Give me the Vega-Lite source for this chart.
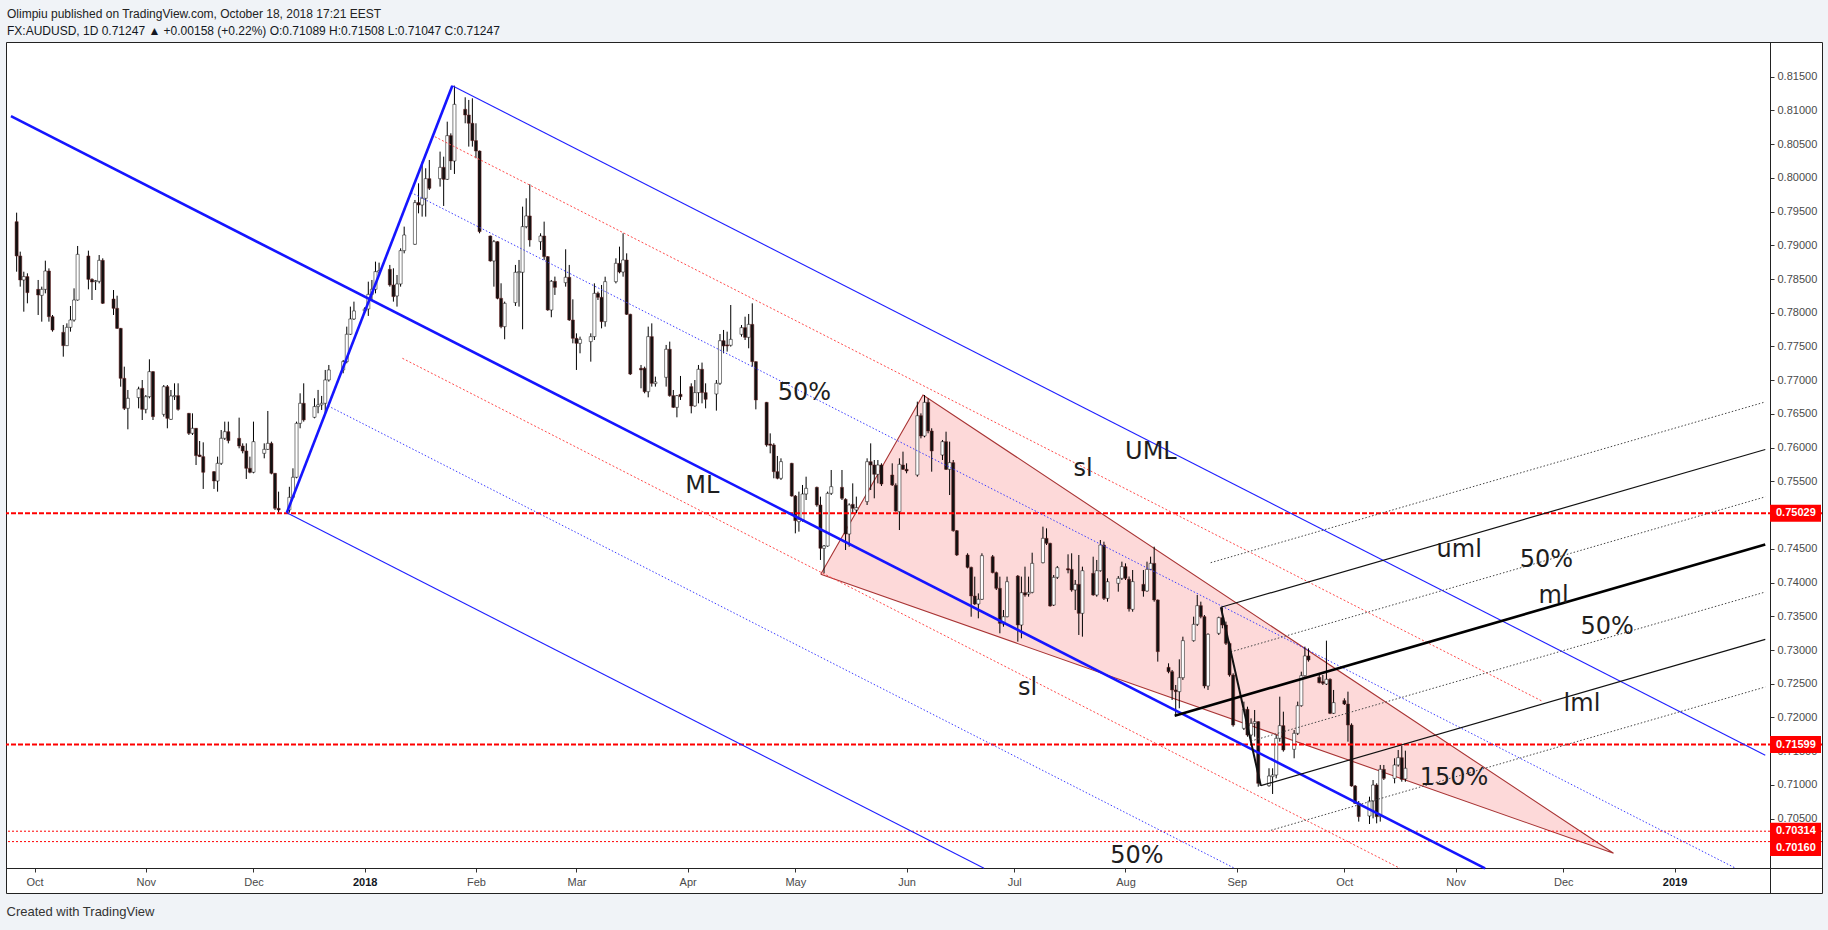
{
"$schema":"https://vega.github.io/schema/vega-lite/v6.json",
"width":1816,"height":851,
"autosize":{"type":"none"},
"padding":{"left":6,"top":42,"right":6,"bottom":37},
"background":"#f0f3f7",
"config":{"view":{"fill":"#ffffff","stroke":"#222222","strokeWidth":1},"font":"Liberation Sans","axis":{"labelOverlap":false,"labelSeparation":0}},
"title":{"text":"Olimpiu published on TradingView.com, October 18, 2018 17:21 EEST","subtitle":"FX:AUDUSD, 1D 0.71247 ▲ +0.00158 (+0.22%) O:0.71089 H:0.71508 L:0.71047 C:0.71247","anchor":"start","frame":"group","orient":"top","offset":4,"dx":1,"font":"Liberation Sans","fontSize":12,"fontWeight":"normal","color":"#222222","subtitleFont":"Liberation Sans","subtitleFontSize":12,"subtitleFontWeight":"normal","subtitleColor":"#131722","subtitlePadding":5},
"datasets":{
"candles":[
{"date":"2017-09-26","o":0.7935,"h":0.79484,"l":0.78609,"c":0.78842},
{"date":"2017-09-27","o":0.78842,"h":0.78906,"l":0.78387,"c":0.78486},
{"date":"2017-09-28","o":0.78486,"h":0.78609,"l":0.78016,"c":0.78536},
{"date":"2017-09-29","o":0.78536,"h":0.78585,"l":0.7814,"c":0.78298},
{"date":"2017-10-02","o":0.78347,"h":0.78486,"l":0.77967,"c":0.78263},
{"date":"2017-10-03","o":0.78258,"h":0.78387,"l":0.77868,"c":0.78347},
{"date":"2017-10-04","o":0.78347,"h":0.78772,"l":0.78288,"c":0.78619},
{"date":"2017-10-05","o":0.78619,"h":0.78658,"l":0.77868,"c":0.77942},
{"date":"2017-10-06","o":0.77942,"h":0.77967,"l":0.7772,"c":0.77744},
{"date":"2017-10-09","o":0.7771,"h":0.77819,"l":0.77349,"c":0.77512},
{"date":"2017-10-10","o":0.77512,"h":0.77843,"l":0.77507,"c":0.77784},
{"date":"2017-10-11","o":0.77784,"h":0.781,"l":0.7772,"c":0.77893},
{"date":"2017-10-12","o":0.77893,"h":0.78362,"l":0.77868,"c":0.78189},
{"date":"2017-10-13","o":0.78189,"h":0.7899,"l":0.78179,"c":0.78866},
{"date":"2017-10-16","o":0.78842,"h":0.78921,"l":0.78347,"c":0.78495},
{"date":"2017-10-17","o":0.78495,"h":0.7851,"l":0.78189,"c":0.78456},
{"date":"2017-10-18","o":0.78461,"h":0.78486,"l":0.78337,"c":0.78476},
{"date":"2017-10-19","o":0.78466,"h":0.78856,"l":0.78436,"c":0.78777},
{"date":"2017-10-20","o":0.78777,"h":0.78807,"l":0.7813,"c":0.7814},
{"date":"2017-10-23","o":0.78204,"h":0.78337,"l":0.77967,"c":0.78066},
{"date":"2017-10-24","o":0.78066,"h":0.78253,"l":0.7776,"c":0.77769},
{"date":"2017-10-25","o":0.77769,"h":0.77775,"l":0.76904,"c":0.77028},
{"date":"2017-10-26","o":0.77028,"h":0.77201,"l":0.76558,"c":0.76583},
{"date":"2017-10-27","o":0.76583,"h":0.76855,"l":0.76272,"c":0.76732},
{"date":"2017-10-30","o":0.76742,"h":0.76904,"l":0.76583,"c":0.7687},
{"date":"2017-10-31","o":0.7688,"h":0.77003,"l":0.7641,"c":0.76568},
{"date":"2017-11-01","o":0.76568,"h":0.76781,"l":0.76509,"c":0.76756},
{"date":"2017-11-02","o":0.76756,"h":0.7731,"l":0.76732,"c":0.77127},
{"date":"2017-11-03","o":0.77127,"h":0.77135,"l":0.7641,"c":0.7646},
{"date":"2017-11-06","o":0.76494,"h":0.76929,"l":0.7646,"c":0.76904},
{"date":"2017-11-07","o":0.76904,"h":0.76929,"l":0.76287,"c":0.76435},
{"date":"2017-11-08","o":0.7642,"h":0.76855,"l":0.7641,"c":0.76766},
{"date":"2017-11-09","o":0.76756,"h":0.76954,"l":0.76707,"c":0.76771},
{"date":"2017-11-10","o":0.76771,"h":0.76954,"l":0.76549,"c":0.76568},
{"date":"2017-11-13","o":0.76509,"h":0.76515,"l":0.76188,"c":0.76213},
{"date":"2017-11-14","o":0.76213,"h":0.76509,"l":0.76188,"c":0.76287},
{"date":"2017-11-15","o":0.76287,"h":0.76292,"l":0.75743,"c":0.75882},
{"date":"2017-11-16","o":0.75892,"h":0.76099,"l":0.75862,"c":0.75867},
{"date":"2017-11-17","o":0.75867,"h":0.76079,"l":0.75388,"c":0.75635},
{"date":"2017-11-20","o":0.75644,"h":0.75654,"l":0.75388,"c":0.75506},
{"date":"2017-11-21","o":0.75506,"h":0.75867,"l":0.75348,"c":0.75768},
{"date":"2017-11-22","o":0.75768,"h":0.76262,"l":0.75743,"c":0.76139},
{"date":"2017-11-23","o":0.76139,"h":0.76386,"l":0.76114,"c":0.76237},
{"date":"2017-11-24","o":0.76237,"h":0.76386,"l":0.76064,"c":0.76104},
{"date":"2017-11-27","o":0.76139,"h":0.76445,"l":0.7599,"c":0.76025},
{"date":"2017-11-28","o":0.76025,"h":0.76064,"l":0.75916,"c":0.75951},
{"date":"2017-11-29","o":0.75951,"h":0.76064,"l":0.75536,"c":0.75694},
{"date":"2017-11-30","o":0.75694,"h":0.75867,"l":0.7562,"c":0.75635},
{"date":"2017-12-01","o":0.75635,"h":0.76386,"l":0.7562,"c":0.76089},
{"date":"2017-12-04","o":0.75916,"h":0.76064,"l":0.75842,"c":0.75975},
{"date":"2017-12-05","o":0.75975,"h":0.76544,"l":0.75966,"c":0.76064},
{"date":"2017-12-06","o":0.76064,"h":0.76089,"l":0.75605,"c":0.7562},
{"date":"2017-12-07","o":0.7562,"h":0.75625,"l":0.75076,"c":0.75101},
{"date":"2017-12-08","o":0.75101,"h":0.75348,"l":0.75036,"c":0.75076},
{"date":"2017-12-11","o":0.75077,"h":0.7542,"l":0.75037,"c":0.75264},
{"date":"2017-12-12","o":0.75264,"h":0.75694,"l":0.75249,"c":0.75561},
{"date":"2017-12-13","o":0.75561,"h":0.76386,"l":0.75546,"c":0.76361},
{"date":"2017-12-14","o":0.76361,"h":0.76806,"l":0.76287,"c":0.76658},
{"date":"2017-12-15","o":0.76658,"h":0.76954,"l":0.76386,"c":0.76411},
{"date":"2017-12-18","o":0.7645,"h":0.76732,"l":0.76435,"c":0.76609},
{"date":"2017-12-19","o":0.76609,"h":0.76856,"l":0.7651,"c":0.76634},
{"date":"2017-12-20","o":0.76634,"h":0.76767,"l":0.76559,"c":0.76658},
{"date":"2017-12-21","o":0.76658,"h":0.77152,"l":0.7651,"c":0.77004},
{"date":"2017-12-22","o":0.77004,"h":0.77226,"l":0.76979,"c":0.77152},
{"date":"2017-12-26","o":0.77152,"h":0.773,"l":0.77103,"c":0.77276},
{"date":"2017-12-27","o":0.77276,"h":0.77794,"l":0.77251,"c":0.77681},
{"date":"2017-12-28","o":0.77681,"h":0.78091,"l":0.77671,"c":0.77908},
{"date":"2017-12-29","o":0.77908,"h":0.78165,"l":0.77893,"c":0.78027},
{"date":"2018-01-01","o":0.78027,"h":0.78081,"l":0.78002,"c":0.78056},
{"date":"2018-01-02","o":0.78056,"h":0.78461,"l":0.77953,"c":0.78273},
{"date":"2018-01-03","o":0.78273,"h":0.78486,"l":0.7819,"c":0.78348},
{"date":"2018-01-04","o":0.78348,"h":0.78758,"l":0.78288,"c":0.7861},
{"date":"2018-01-05","o":0.78605,"h":0.78743,"l":0.78585,"c":0.78624},
{"date":"2018-01-08","o":0.78644,"h":0.78709,"l":0.78387,"c":0.78412},
{"date":"2018-01-09","o":0.78412,"h":0.78659,"l":0.78165,"c":0.78239},
{"date":"2018-01-10","o":0.78249,"h":0.7856,"l":0.78091,"c":0.78427},
{"date":"2018-01-11","o":0.78427,"h":0.78955,"l":0.78387,"c":0.78921},
{"date":"2018-01-12","o":0.78921,"h":0.79277,"l":0.78881,"c":0.79153},
{"date":"2018-01-15","o":0.79015,"h":0.79672,"l":0.79005,"c":0.79633},
{"date":"2018-01-16","o":0.79633,"h":0.79919,"l":0.79474,"c":0.79598},
{"date":"2018-01-17","o":0.79598,"h":0.8024,"l":0.79425,"c":0.79697},
{"date":"2018-01-18","o":0.79697,"h":0.80142,"l":0.79425,"c":0.79988},
{"date":"2018-01-19","o":0.79988,"h":0.80265,"l":0.7982,"c":0.79845},
{"date":"2018-01-22","o":0.79988,"h":0.80389,"l":0.7987,"c":0.80156},
{"date":"2018-01-23","o":0.80156,"h":0.80314,"l":0.79583,"c":0.79978},
{"date":"2018-01-24","o":0.79978,"h":0.80833,"l":0.79969,"c":0.80626},
{"date":"2018-01-25","o":0.80626,"h":0.8066,"l":0.80117,"c":0.8025},
{"date":"2018-01-26","o":0.8025,"h":0.81367,"l":0.80058,"c":0.8109},
{"date":"2018-01-29","o":0.81016,"h":0.81194,"l":0.80809,"c":0.80932},
{"date":"2018-01-30","o":0.80932,"h":0.81155,"l":0.80463,"c":0.80809},
{"date":"2018-01-31","o":0.80809,"h":0.81179,"l":0.80463,"c":0.80552},
{"date":"2018-02-01","o":0.80552,"h":0.80809,"l":0.8029,"c":0.80398},
{"date":"2018-02-02","o":0.80398,"h":0.80405,"l":0.79178,"c":0.79203},
{"date":"2018-02-05","o":0.79138,"h":0.79145,"l":0.78758,"c":0.78768},
{"date":"2018-02-06","o":0.78768,"h":0.79079,"l":0.78387,"c":0.79054},
{"date":"2018-02-07","o":0.79054,"h":0.7906,"l":0.782,"c":0.78214},
{"date":"2018-02-08","o":0.78214,"h":0.78437,"l":0.7777,"c":0.77794},
{"date":"2018-02-09","o":0.77794,"h":0.78165,"l":0.77607,"c":0.7814},
{"date":"2018-02-12","o":0.7815,"h":0.78709,"l":0.78101,"c":0.786},
{"date":"2018-02-13","o":0.78595,"h":0.78783,"l":0.78091,"c":0.7861},
{"date":"2018-02-14","o":0.786,"h":0.79573,"l":0.77755,"c":0.79277},
{"date":"2018-02-15","o":0.79277,"h":0.79697,"l":0.79252,"c":0.79435},
{"date":"2018-02-16","o":0.79435,"h":0.79904,"l":0.7898,"c":0.79079},
{"date":"2018-02-19","o":0.79054,"h":0.79178,"l":0.78931,"c":0.79138},
{"date":"2018-02-20","o":0.79138,"h":0.79351,"l":0.78783,"c":0.78832},
{"date":"2018-02-21","o":0.78832,"h":0.7884,"l":0.7803,"c":0.78041},
{"date":"2018-02-22","o":0.78041,"h":0.78486,"l":0.77933,"c":0.78466},
{"date":"2018-02-23","o":0.78466,"h":0.78536,"l":0.78264,"c":0.78377},
{"date":"2018-02-26","o":0.78446,"h":0.78941,"l":0.78387,"c":0.78526},
{"date":"2018-02-27","o":0.78526,"h":0.78709,"l":0.7788,"c":0.77893},
{"date":"2018-02-28","o":0.77893,"h":0.78199,"l":0.77547,"c":0.77621},
{"date":"2018-03-01","o":0.77621,"h":0.77695,"l":0.77152,"c":0.77547},
{"date":"2018-03-02","o":0.77547,"h":0.77646,"l":0.77399,"c":0.77606},
{"date":"2018-03-05","o":0.77572,"h":0.77695,"l":0.77275,"c":0.77646},
{"date":"2018-03-06","o":0.77646,"h":0.78436,"l":0.77596,"c":0.78288},
{"date":"2018-03-07","o":0.78288,"h":0.78313,"l":0.78189,"c":0.78229},
{"date":"2018-03-08","o":0.78229,"h":0.78412,"l":0.77769,"c":0.77868},
{"date":"2018-03-09","o":0.77868,"h":0.78535,"l":0.77794,"c":0.78461},
{"date":"2018-03-12","o":0.78461,"h":0.78807,"l":0.78436,"c":0.78733},
{"date":"2018-03-13","o":0.78733,"h":0.7898,"l":0.78585,"c":0.78604},
{"date":"2018-03-14","o":0.78604,"h":0.79178,"l":0.78535,"c":0.78782},
{"date":"2018-03-15","o":0.78782,"h":0.78881,"l":0.77967,"c":0.77977},
{"date":"2018-03-16","o":0.77977,"h":0.77985,"l":0.77077,"c":0.77092},
{"date":"2018-03-19","o":0.77177,"h":0.77226,"l":0.7688,"c":0.77152},
{"date":"2018-03-20","o":0.77177,"h":0.77201,"l":0.76806,"c":0.7683},
{"date":"2018-03-21","o":0.7683,"h":0.77794,"l":0.76746,"c":0.77646},
{"date":"2018-03-22","o":0.77646,"h":0.77843,"l":0.76905,"c":0.76954},
{"date":"2018-03-23","o":0.76949,"h":0.77053,"l":0.76905,"c":0.76974},
{"date":"2018-03-26","o":0.77043,"h":0.77523,"l":0.76905,"c":0.77459},
{"date":"2018-03-27","o":0.77459,"h":0.77572,"l":0.76756,"c":0.76771},
{"date":"2018-03-28","o":0.76771,"h":0.76855,"l":0.7659,"c":0.76598},
{"date":"2018-03-29","o":0.76598,"h":0.76781,"l":0.7645,"c":0.76771},
{"date":"2018-03-30","o":0.76791,"h":0.77063,"l":0.76707,"c":0.76756},
{"date":"2018-04-02","o":0.76905,"h":0.76954,"l":0.76509,"c":0.76618},
{"date":"2018-04-03","o":0.76618,"h":0.77003,"l":0.76608,"c":0.76816},
{"date":"2018-04-04","o":0.76816,"h":0.77226,"l":0.76657,"c":0.77162},
{"date":"2018-04-05","o":0.77162,"h":0.77261,"l":0.76657,"c":0.76816},
{"date":"2018-04-06","o":0.76816,"h":0.76954,"l":0.76583,"c":0.76717},
{"date":"2018-04-09","o":0.76796,"h":0.77003,"l":0.76549,"c":0.76954},
{"date":"2018-04-10","o":0.76954,"h":0.77685,"l":0.7693,"c":0.77586},
{"date":"2018-04-11","o":0.77586,"h":0.77745,"l":0.77399,"c":0.77508},
{"date":"2018-04-12","o":0.77523,"h":0.7772,"l":0.77424,"c":0.77508},
{"date":"2018-04-13","o":0.77518,"h":0.78115,"l":0.77498,"c":0.77606},
{"date":"2018-04-16","o":0.7768,"h":0.77818,"l":0.77646,"c":0.77779},
{"date":"2018-04-17","o":0.77779,"h":0.77942,"l":0.77596,"c":0.77636},
{"date":"2018-04-18","o":0.77636,"h":0.77982,"l":0.77473,"c":0.77828},
{"date":"2018-04-19","o":0.77828,"h":0.7814,"l":0.77201,"c":0.77275},
{"date":"2018-04-20","o":0.77275,"h":0.7728,"l":0.76568,"c":0.76707},
{"date":"2018-04-23","o":0.76672,"h":0.76678,"l":0.76015,"c":0.7604},
{"date":"2018-04-24","o":0.76054,"h":0.76212,"l":0.75916,"c":0.76035},
{"date":"2018-04-25","o":0.7604,"h":0.76065,"l":0.75546,"c":0.75644},
{"date":"2018-04-26","o":0.75644,"h":0.75877,"l":0.75531,"c":0.75546},
{"date":"2018-04-27","o":0.75546,"h":0.75842,"l":0.75521,"c":0.75793},
{"date":"2018-04-30","o":0.75768,"h":0.75775,"l":0.75274,"c":0.75283},
{"date":"2018-05-01","o":0.75283,"h":0.75298,"l":0.7473,"c":0.74918},
{"date":"2018-05-02","o":0.74903,"h":0.75348,"l":0.74755,"c":0.74938},
{"date":"2018-05-03","o":0.74928,"h":0.75447,"l":0.74903,"c":0.75313},
{"date":"2018-05-04","o":0.75313,"h":0.7557,"l":0.75224,"c":0.75397},
{"date":"2018-05-07","o":0.75412,"h":0.75422,"l":0.75125,"c":0.7515},
{"date":"2018-05-08","o":0.7515,"h":0.75274,"l":0.74335,"c":0.74508},
{"date":"2018-05-09","o":0.74508,"h":0.74557,"l":0.74137,"c":0.74542},
{"date":"2018-05-10","o":0.74542,"h":0.75348,"l":0.74532,"c":0.75323},
{"date":"2018-05-11","o":0.75323,"h":0.75669,"l":0.75298,"c":0.75422},
{"date":"2018-05-14","o":0.75412,"h":0.75669,"l":0.75224,"c":0.75249},
{"date":"2018-05-15","o":0.75234,"h":0.75249,"l":0.74483,"c":0.7472},
{"date":"2018-05-16","o":0.7472,"h":0.75175,"l":0.74532,"c":0.7515},
{"date":"2018-05-17","o":0.7516,"h":0.75471,"l":0.75027,"c":0.75101},
{"date":"2018-05-18","o":0.75076,"h":0.75274,"l":0.75027,"c":0.75111},
{"date":"2018-05-21","o":0.752,"h":0.75842,"l":0.7515,"c":0.75792},
{"date":"2018-05-22","o":0.75792,"h":0.76064,"l":0.75372,"c":0.75743},
{"date":"2018-05-23","o":0.75743,"h":0.75817,"l":0.75249,"c":0.75605},
{"date":"2018-05-24","o":0.75605,"h":0.75817,"l":0.75471,"c":0.75743},
{"date":"2018-05-25","o":0.75743,"h":0.75768,"l":0.75432,"c":0.75461},
{"date":"2018-05-28","o":0.75595,"h":0.75768,"l":0.75432,"c":0.75447},
{"date":"2018-05-29","o":0.75442,"h":0.75471,"l":0.75051,"c":0.75061},
{"date":"2018-05-30","o":0.75051,"h":0.75842,"l":0.74779,"c":0.75753},
{"date":"2018-05-31","o":0.75743,"h":0.75941,"l":0.75669,"c":0.75679},
{"date":"2018-06-01","o":0.75679,"h":0.75768,"l":0.7562,"c":0.75654},
{"date":"2018-06-04","o":0.75595,"h":0.76682,"l":0.7557,"c":0.76474},
{"date":"2018-06-05","o":0.76474,"h":0.76509,"l":0.76138,"c":0.76173},
{"date":"2018-06-06","o":0.76173,"h":0.76781,"l":0.76153,"c":0.76672},
{"date":"2018-06-07","o":0.76672,"h":0.76731,"l":0.76213,"c":0.76247},
{"date":"2018-06-08","o":0.76247,"h":0.76287,"l":0.75644,"c":0.75951},
{"date":"2018-06-11","o":0.75891,"h":0.76114,"l":0.75817,"c":0.76089},
{"date":"2018-06-12","o":0.76089,"h":0.76237,"l":0.75669,"c":0.75679},
{"date":"2018-06-13","o":0.75679,"h":0.76089,"l":0.75298,"c":0.75778},
{"date":"2018-06-14","o":0.75778,"h":0.75817,"l":0.74755,"c":0.74769},
{"date":"2018-06-15","o":0.74769,"h":0.74779,"l":0.74394,"c":0.74409},
{"date":"2018-06-18","o":0.74409,"h":0.74434,"l":0.74211,"c":0.74226},
{"date":"2018-06-19","o":0.74226,"h":0.74236,"l":0.73494,"c":0.73801},
{"date":"2018-06-20","o":0.73801,"h":0.74088,"l":0.73667,"c":0.73682},
{"date":"2018-06-21","o":0.73682,"h":0.7384,"l":0.7347,"c":0.73752},
{"date":"2018-06-22","o":0.73752,"h":0.74434,"l":0.73742,"c":0.74399},
{"date":"2018-06-25","o":0.74384,"h":0.74409,"l":0.74137,"c":0.74147},
{"date":"2018-06-26","o":0.74147,"h":0.74162,"l":0.7389,"c":0.73915},
{"date":"2018-06-27","o":0.73915,"h":0.74088,"l":0.73248,"c":0.73396},
{"date":"2018-06-28","o":0.73386,"h":0.73593,"l":0.73346,"c":0.73494},
{"date":"2018-06-29","o":0.73494,"h":0.74088,"l":0.73485,"c":0.74013},
{"date":"2018-07-02","o":0.74097,"h":0.74112,"l":0.73124,"c":0.73371},
{"date":"2018-07-03","o":0.73371,"h":0.74088,"l":0.73174,"c":0.7385},
{"date":"2018-07-04","o":0.7385,"h":0.74236,"l":0.73791,"c":0.73816},
{"date":"2018-07-05","o":0.7383,"h":0.74088,"l":0.73791,"c":0.73855},
{"date":"2018-07-06","o":0.73855,"h":0.74443,"l":0.7384,"c":0.74285},
{"date":"2018-07-09","o":0.74295,"h":0.74829,"l":0.74285,"c":0.74656},
{"date":"2018-07-10","o":0.74656,"h":0.74804,"l":0.74557,"c":0.74582},
{"date":"2018-07-11","o":0.74582,"h":0.7459,"l":0.73643,"c":0.73653},
{"date":"2018-07-12","o":0.73667,"h":0.74112,"l":0.73653,"c":0.74078},
{"date":"2018-07-13","o":0.74078,"h":0.74246,"l":0.74053,"c":0.74221},
{"date":"2018-07-16","o":0.74206,"h":0.74419,"l":0.74137,"c":0.74186},
{"date":"2018-07-17","o":0.74196,"h":0.74434,"l":0.73865,"c":0.7389},
{"date":"2018-07-18","o":0.7389,"h":0.74038,"l":0.73593,"c":0.73974},
{"date":"2018-07-19","o":0.73974,"h":0.74409,"l":0.73223,"c":0.73544},
{"date":"2018-07-20","o":0.73544,"h":0.74236,"l":0.73198,"c":0.74176},
{"date":"2018-07-23","o":0.74137,"h":0.74384,"l":0.73805,"c":0.73816},
{"date":"2018-07-24","o":0.73816,"h":0.74335,"l":0.73791,"c":0.74176},
{"date":"2018-07-25","o":0.74176,"h":0.74631,"l":0.74162,"c":0.74557},
{"date":"2018-07-26","o":0.74557,"h":0.74606,"l":0.73742,"c":0.73766},
{"date":"2018-07-27","o":0.73766,"h":0.74063,"l":0.73717,"c":0.74013},
{"date":"2018-07-30","o":0.73989,"h":0.74097,"l":0.73865,"c":0.74063},
{"date":"2018-07-31","o":0.74063,"h":0.7431,"l":0.74038,"c":0.74236},
{"date":"2018-08-01","o":0.74236,"h":0.74285,"l":0.74038,"c":0.74063},
{"date":"2018-08-02","o":0.7405,"h":0.7409,"l":0.7357,"c":0.7361},
{"date":"2018-08-03","o":0.73603,"h":0.74186,"l":0.73568,"c":0.74014},
{"date":"2018-08-06","o":0.73974,"h":0.74186,"l":0.73791,"c":0.73875},
{"date":"2018-08-07","o":0.73875,"h":0.7431,"l":0.73865,"c":0.74196},
{"date":"2018-08-08","o":0.74196,"h":0.74384,"l":0.74186,"c":0.74285},
{"date":"2018-08-09","o":0.74285,"h":0.74532,"l":0.73717,"c":0.73742},
{"date":"2018-08-10","o":0.73742,"h":0.7375,"l":0.72828,"c":0.72976},
{"date":"2018-08-13","o":0.72744,"h":0.72803,"l":0.72655,"c":0.72679},
{"date":"2018-08-14","o":0.72679,"h":0.72704,"l":0.72259,"c":0.72408},
{"date":"2018-08-15","o":0.72408,"h":0.72482,"l":0.72027,"c":0.72383},
{"date":"2018-08-16","o":0.72383,"h":0.72862,"l":0.72136,"c":0.7259},
{"date":"2018-08-17","o":0.7259,"h":0.73198,"l":0.72556,"c":0.73139},
{"date":"2018-08-20","o":0.73139,"h":0.73495,"l":0.73124,"c":0.73381},
{"date":"2018-08-21","o":0.73381,"h":0.73816,"l":0.73356,"c":0.73658},
{"date":"2018-08-22","o":0.73658,"h":0.73717,"l":0.7347,"c":0.73495},
{"date":"2018-08-23","o":0.73495,"h":0.73519,"l":0.72432,"c":0.72467},
{"date":"2018-08-24","o":0.72467,"h":0.73248,"l":0.72408,"c":0.73233},
{"date":"2018-08-27","o":0.73248,"h":0.73495,"l":0.73223,"c":0.7348},
{"date":"2018-08-28","o":0.7348,"h":0.73633,"l":0.73322,"c":0.73371},
{"date":"2018-08-29","o":0.73371,"h":0.73421,"l":0.73075,"c":0.73099},
{"date":"2018-08-30","o":0.73099,"h":0.73124,"l":0.72605,"c":0.7263},
{"date":"2018-08-31","o":0.7263,"h":0.72655,"l":0.71864,"c":0.71888},
{"date":"2018-09-03","o":0.71839,"h":0.72235,"l":0.71814,"c":0.72121},
{"date":"2018-09-04","o":0.72121,"h":0.7216,"l":0.71715,"c":0.7174},
{"date":"2018-09-05","o":0.7174,"h":0.71987,"l":0.71666,"c":0.71913},
{"date":"2018-09-06","o":0.71913,"h":0.72111,"l":0.71715,"c":0.71938},
{"date":"2018-09-07","o":0.71938,"h":0.71945,"l":0.70974,"c":0.71024},
{"date":"2018-09-10","o":0.70989,"h":0.71247,"l":0.70974,"c":0.71132},
{"date":"2018-09-11","o":0.71123,"h":0.71247,"l":0.70866,"c":0.71147},
{"date":"2018-09-12","o":0.71147,"h":0.7174,"l":0.71098,"c":0.71691},
{"date":"2018-09-13","o":0.71691,"h":0.72309,"l":0.71641,"c":0.71879},
{"date":"2018-09-14","o":0.71879,"h":0.72086,"l":0.71494,"c":0.71518},
{"date":"2018-09-17","o":0.71528,"h":0.71814,"l":0.71395,"c":0.71765},
{"date":"2018-09-18","o":0.71765,"h":0.72235,"l":0.7174,"c":0.72175},
{"date":"2018-09-19","o":0.72175,"h":0.72679,"l":0.7216,"c":0.7262},
{"date":"2018-09-20","o":0.7262,"h":0.7305,"l":0.72605,"c":0.72912},
{"date":"2018-09-21","o":0.72912,"h":0.73025,"l":0.72828,"c":0.72852},
{"date":"2018-09-24","o":0.72595,"h":0.7263,"l":0.72506,"c":0.72516},
{"date":"2018-09-25","o":0.72531,"h":0.7263,"l":0.72482,"c":0.72506},
{"date":"2018-09-26","o":0.72496,"h":0.73139,"l":0.72482,"c":0.72566},
{"date":"2018-09-27","o":0.72566,"h":0.7258,"l":0.7205,"c":0.72062},
{"date":"2018-09-28","o":0.72062,"h":0.72408,"l":0.72052,"c":0.7222},
{"date":"2018-10-01","o":0.7225,"h":0.72284,"l":0.72185,"c":0.722},
{"date":"2018-10-02","o":0.722,"h":0.72383,"l":0.71641,"c":0.71888},
{"date":"2018-10-03","o":0.71888,"h":0.71913,"l":0.70974,"c":0.70984},
{"date":"2018-10-04","o":0.70984,"h":0.70999,"l":0.70718,"c":0.70727},
{"date":"2018-10-05","o":0.70727,"h":0.70762,"l":0.70456,"c":0.7053},
{"date":"2018-10-08","o":0.7054,"h":0.70826,"l":0.70421,"c":0.70762},
{"date":"2018-10-09","o":0.70762,"h":0.71073,"l":0.70505,"c":0.70999},
{"date":"2018-10-10","o":0.70999,"h":0.71024,"l":0.70431,"c":0.7053},
{"date":"2018-10-11","o":0.7053,"h":0.71296,"l":0.70456,"c":0.71231},
{"date":"2018-10-12","o":0.71231,"h":0.71296,"l":0.71073,"c":0.71098},
{"date":"2018-10-15","o":0.71098,"h":0.71395,"l":0.71024,"c":0.71296},
{"date":"2018-10-16","o":0.71296,"h":0.71518,"l":0.71271,"c":0.71404},
{"date":"2018-10-17","o":0.71404,"h":0.71577,"l":0.71048,"c":0.71083},
{"date":"2018-10-18","o":0.71089,"h":0.71508,"l":0.71047,"c":0.71247}
],
"lines":[
{"line":"ML","kind":"median","date":"2017-09-24T10:00:00Z","price":0.80914},
{"line":"ML","kind":"median","date":"2018-11-09T05:00:00Z","price":0.69764},
{"line":"handle","kind":"median","date":"2017-12-10T07:00:00Z","price":0.75036},
{"line":"handle","kind":"median","date":"2018-01-25T10:00:00Z","price":0.81366},
{"line":"UML","kind":"tine","date":"2018-01-25T10:00:00Z","price":0.81366},
{"line":"UML","kind":"tine","date":"2019-01-26T07:00:00Z","price":0.7144},
{"line":"LML","kind":"tine","date":"2017-12-10T07:00:00Z","price":0.75036},
{"line":"LML","kind":"tine","date":"2018-06-22T14:00:00Z","price":0.69764},
{"line":"half-up","kind":"half","date":"2018-01-13T22:00:00Z","price":0.79783},
{"line":"half-up","kind":"half","date":"2019-01-18T02:00:00Z","price":0.69764},
{"line":"half-dn","kind":"half","date":"2017-12-21T19:00:00Z","price":0.76619},
{"line":"half-dn","kind":"half","date":"2018-08-31T10:00:00Z","price":0.69764},
{"line":"sl-up","kind":"slide","date":"2018-01-20T13:00:00Z","price":0.8061},
{"line":"sl-up","kind":"slide","date":"2018-11-25T10:00:00Z","price":0.72234},
{"line":"sl-dn","kind":"slide","date":"2018-01-11T12:00:00Z","price":0.77325},
{"line":"sl-dn","kind":"slide","date":"2018-10-16T12:00:00Z","price":0.69764},
{"line":"ml","kind":"median2","date":"2018-08-14T17:00:00Z","price":0.72027},
{"line":"ml","kind":"median2","date":"2019-01-26T07:00:00Z","price":0.74565},
{"line":"pivots","kind":"handle2","date":"2018-08-27T14:00:00Z","price":0.73634},
{"line":"pivots","kind":"handle2","date":"2018-09-07T17:00:00Z","price":0.70989},
{"line":"uml","kind":"tine2","date":"2018-08-27T14:00:00Z","price":0.73634},
{"line":"uml","kind":"tine2","date":"2019-01-26T07:00:00Z","price":0.75973},
{"line":"lml","kind":"tine2","date":"2018-09-07T17:00:00Z","price":0.70989},
{"line":"lml","kind":"tine2","date":"2019-01-26T07:00:00Z","price":0.73157},
{"line":"150-up","kind":"half2","date":"2018-08-24T18:00:00Z","price":0.74295},
{"line":"150-up","kind":"half2","date":"2019-01-26T07:00:00Z","price":0.76678},
{"line":"50-up","kind":"half2","date":"2018-08-30T08:00:00Z","price":0.72972},
{"line":"50-up","kind":"half2","date":"2019-01-26T07:00:00Z","price":0.75271},
{"line":"50-dn","kind":"half2","date":"2018-09-04T23:00:00Z","price":0.7165},
{"line":"50-dn","kind":"half2","date":"2019-01-26T07:00:00Z","price":0.7386},
{"line":"150-dn","kind":"half2","date":"2018-09-10T13:00:00Z","price":0.70328},
{"line":"150-dn","kind":"half2","date":"2019-01-26T07:00:00Z","price":0.72452}
],
"triangle":[
{"pt":1,"date":"2018-05-08T02:00:00Z","price":0.74123},
{"pt":2,"date":"2018-06-05T14:00:00Z","price":0.76781},
{"pt":3,"date":"2018-12-15T00:00:00Z","price":0.69987},
{"pt":4,"date":"2018-05-08T02:00:00Z","price":0.74123}
],
"labels":[
{"text":"50%","date":"2018-05-03T12:00:00Z","price":0.76806},
{"text":"ML","date":"2018-04-05T02:00:00Z","price":0.75432},
{"text":"sl","date":"2018-07-20T05:00:00Z","price":0.75679},
{"text":"UML","date":"2018-08-08T02:00:00Z","price":0.75936},
{"text":"sl","date":"2018-07-04T17:00:00Z","price":0.72437},
{"text":"uml","date":"2018-11-02T00:00:00Z","price":0.74483},
{"text":"50%","date":"2018-11-26T07:00:00Z","price":0.74335},
{"text":"ml","date":"2018-11-28T07:00:00Z","price":0.73801},
{"text":"50%","date":"2018-12-13T05:00:00Z","price":0.73346},
{"text":"lml","date":"2018-12-06T05:00:00Z","price":0.722},
{"text":"150%","date":"2018-10-31T14:00:00Z","price":0.71103},
{"text":"50%","date":"2018-08-04T05:00:00Z","price":0.69947}
],
"levels":[
{"price":0.75029,"role":"key"},
{"price":0.71599,"role":"key"},
{"price":0.70314,"role":"minor"},
{"price":0.7016,"role":"minor"}
]
},
"encoding":{
 "y":{"field":"price","type":"quantitative","scale":{"domain":[0.69398,0.82014],"nice":false,"zero":false},
  "axis":{"orient":"right","offset":-52,"values":[0.705,0.71,0.715,0.72,0.725,0.73,0.735,0.74,0.745,0.75,0.755,0.76,0.765,0.77,0.775,0.78,0.785,0.79,0.795,0.8,0.805,0.81,0.815],"format":".5f","labelFont":"Liberation Sans","labelFontSize":11,"labelColor":"#4a4a4a","labelPadding":3,"tickSize":4,"tickColor":"#333333","domainColor":"#222222","grid":false,"title":null,"labelFlush":false,"labelOverlap":false}}
},
"layer":[
{"data":{"name":"triangle"},"mark":{"type":"line","fill":"#fdd9d9","stroke":"#a83434","strokeWidth":1.1,"clip":true},
 "encoding":{"x":{"field":"date","type":"temporal","scale":{"type":"utc","domain":[{"year":2017,"month":9,"date":24,"hours":10,"minutes":20,"utc":true},{"year":2019,"month":2,"date":9,"hours":17,"utc":true}],"nice":false}},
 "order":{"field":"pt","type":"quantitative"}}},
{"data":{"name":"candles"},"mark":{"type":"rule","color":"#000000","strokeWidth":1},
 "encoding":{"x":{"field":"date","type":"temporal","scale":{"type":"utc","domain":[{"year":2017,"month":9,"date":24,"hours":10,"minutes":20,"utc":true},{"year":2019,"month":2,"date":9,"hours":17,"utc":true}],"nice":false},
  "axis":{"orient":"bottom","offset":-25,"values":[{"year":2017,"month":10,"date":1,"utc":true},{"year":2017,"month":11,"date":1,"utc":true},{"year":2017,"month":12,"date":1,"utc":true},{"year":2018,"month":1,"date":1,"utc":true},{"year":2018,"month":2,"date":1,"utc":true},{"year":2018,"month":3,"date":1,"utc":true},{"year":2018,"month":4,"date":1,"utc":true},{"year":2018,"month":5,"date":1,"utc":true},{"year":2018,"month":6,"date":1,"utc":true},{"year":2018,"month":7,"date":1,"utc":true},{"year":2018,"month":8,"date":1,"utc":true},{"year":2018,"month":9,"date":1,"utc":true},{"year":2018,"month":10,"date":1,"utc":true},{"year":2018,"month":11,"date":1,"utc":true},{"year":2018,"month":12,"date":1,"utc":true},{"year":2019,"month":1,"date":1,"utc":true}],
  "labelExpr":"utcmonth(datum.value) == 0 ? utcFormat(datum.value, '%Y') : utcFormat(datum.value, '%b')",
  "labelFontWeight":{"condition":{"test":"utcmonth(datum.value) == 0","value":"bold"},"value":"normal"},
  "labelColor":{"condition":{"test":"utcmonth(datum.value) == 0","value":"#131722"},"value":"#4a4a4a"},
  "labelFont":"Liberation Sans","labelFontSize":11,"labelPadding":4,"labelFlush":false,"labelOverlap":false,
  "tickSize":4,"tickColor":"#333333","domainColor":"#222222","grid":false,
  "title":"Created with TradingView","titleAnchor":"start","titleAlign":"left","titlePadding":18,"titleFont":"Liberation Sans","titleFontSize":13,"titleFontWeight":"normal","titleColor":"#333333"}},
 "y":{"field":"l","type":"quantitative","scale":{"domain":[0.69398,0.82014],"nice":false,"zero":false},
  "axis":{"orient":"right","offset":-52,"values":[0.705,0.71,0.715,0.72,0.725,0.73,0.735,0.74,0.745,0.75,0.755,0.76,0.765,0.77,0.775,0.78,0.785,0.79,0.795,0.8,0.805,0.81,0.815],"format":".5f","labelFont":"Liberation Sans","labelFontSize":11,"labelColor":"#4a4a4a","labelPadding":3,"tickSize":4,"tickColor":"#333333","domainColor":"#222222","grid":false,"title":null,"labelFlush":false,"labelOverlap":false}},
 "y2":{"field":"h"}}},
{"data":{"name":"candles"},"mark":{"type":"bar","width":3.1,"strokeWidth":0.5},
 "encoding":{"x":{"field":"date","type":"temporal","scale":{"type":"utc","domain":[{"year":2017,"month":9,"date":24,"hours":10,"minutes":20,"utc":true},{"year":2019,"month":2,"date":9,"hours":17,"utc":true}],"nice":false}},
 "y":{"field":"o","type":"quantitative","scale":{"domain":[0.69398,0.82014],"nice":false,"zero":false},
  "axis":{"orient":"right","offset":-52,"values":[0.705,0.71,0.715,0.72,0.725,0.73,0.735,0.74,0.745,0.75,0.755,0.76,0.765,0.77,0.775,0.78,0.785,0.79,0.795,0.8,0.805,0.81,0.815],"format":".5f","labelFont":"Liberation Sans","labelFontSize":11,"labelColor":"#4a4a4a","labelPadding":3,"tickSize":4,"tickColor":"#333333","domainColor":"#222222","grid":false,"title":null,"labelFlush":false,"labelOverlap":false}},
 "y2":{"field":"c"},
 "fill":{"condition":{"test":"datum.c < datum.o","value":"#111111"},"value":"#ffffff"},
 "stroke":{"condition":{"test":"datum.c < datum.o","value":"#6b1f1f"},"value":"#000000"}}},
{"data":{"name":"levels"},"transform":[{"filter":"datum.role == 'key'"}],"mark":{"type":"rule","color":"#ff0000","strokeWidth":2,"strokeDash":[5,2]},
 "encoding":{}},
{"data":{"name":"levels"},"transform":[{"filter":"datum.role == 'minor'"}],"mark":{"type":"rule","color":"#ff0000","strokeWidth":1,"strokeDash":[2,2]},
 "encoding":{}},
{"data":{"name":"lines"},"transform":[{"filter":"datum.kind == 'slide'"}],"mark":{"type":"line","color":"#ff4a4a","strokeWidth":1,"strokeDash":[2,2],"clip":true},
 "encoding":{"x":{"field":"date","type":"temporal","scale":{"type":"utc","domain":[{"year":2017,"month":9,"date":24,"hours":10,"minutes":20,"utc":true},{"year":2019,"month":2,"date":9,"hours":17,"utc":true}],"nice":false}},"detail":{"field":"line","type":"nominal"}}},
{"data":{"name":"lines"},"transform":[{"filter":"datum.kind == 'half'"}],"mark":{"type":"line","color":"#3b3bff","strokeWidth":1,"strokeDash":[1.5,2],"clip":true},
 "encoding":{"x":{"field":"date","type":"temporal","scale":{"type":"utc","domain":[{"year":2017,"month":9,"date":24,"hours":10,"minutes":20,"utc":true},{"year":2019,"month":2,"date":9,"hours":17,"utc":true}],"nice":false}},"detail":{"field":"line","type":"nominal"}}},
{"data":{"name":"lines"},"transform":[{"filter":"datum.kind == 'tine'"}],"mark":{"type":"line","color":"#1f1fff","strokeWidth":1.1,"clip":true},
 "encoding":{"x":{"field":"date","type":"temporal","scale":{"type":"utc","domain":[{"year":2017,"month":9,"date":24,"hours":10,"minutes":20,"utc":true},{"year":2019,"month":2,"date":9,"hours":17,"utc":true}],"nice":false}},"detail":{"field":"line","type":"nominal"}}},
{"data":{"name":"lines"},"transform":[{"filter":"datum.kind == 'median'"}],"mark":{"type":"line","color":"#1515ff","strokeWidth":2.6,"clip":true},
 "encoding":{"x":{"field":"date","type":"temporal","scale":{"type":"utc","domain":[{"year":2017,"month":9,"date":24,"hours":10,"minutes":20,"utc":true},{"year":2019,"month":2,"date":9,"hours":17,"utc":true}],"nice":false}},"detail":{"field":"line","type":"nominal"}}},
{"data":{"name":"lines"},"transform":[{"filter":"datum.kind == 'half2'"}],"mark":{"type":"line","color":"#444444","strokeWidth":1,"strokeDash":[1.5,2],"clip":true},
 "encoding":{"x":{"field":"date","type":"temporal","scale":{"type":"utc","domain":[{"year":2017,"month":9,"date":24,"hours":10,"minutes":20,"utc":true},{"year":2019,"month":2,"date":9,"hours":17,"utc":true}],"nice":false}},"detail":{"field":"line","type":"nominal"}}},
{"data":{"name":"lines"},"transform":[{"filter":"datum.kind == 'tine2'"}],"mark":{"type":"line","color":"#111111","strokeWidth":1.2,"clip":true},
 "encoding":{"x":{"field":"date","type":"temporal","scale":{"type":"utc","domain":[{"year":2017,"month":9,"date":24,"hours":10,"minutes":20,"utc":true},{"year":2019,"month":2,"date":9,"hours":17,"utc":true}],"nice":false}},"detail":{"field":"line","type":"nominal"}}},
{"data":{"name":"lines"},"transform":[{"filter":"datum.kind == 'handle2'"}],"mark":{"type":"line","color":"#111111","strokeWidth":2,"clip":true},
 "encoding":{"x":{"field":"date","type":"temporal","scale":{"type":"utc","domain":[{"year":2017,"month":9,"date":24,"hours":10,"minutes":20,"utc":true},{"year":2019,"month":2,"date":9,"hours":17,"utc":true}],"nice":false}},"detail":{"field":"line","type":"nominal"}}},
{"data":{"name":"lines"},"transform":[{"filter":"datum.kind == 'median2'"}],"mark":{"type":"line","color":"#000000","strokeWidth":2.6,"clip":true},
 "encoding":{"x":{"field":"date","type":"temporal","scale":{"type":"utc","domain":[{"year":2017,"month":9,"date":24,"hours":10,"minutes":20,"utc":true},{"year":2019,"month":2,"date":9,"hours":17,"utc":true}],"nice":false}},"detail":{"field":"line","type":"nominal"}}},
{"data":{"name":"labels"},"mark":{"type":"text","font":"DejaVu Sans","fontSize":24,"color":"#1e1e1e","align":"center","baseline":"middle"},
 "encoding":{"x":{"field":"date","type":"temporal","scale":{"type":"utc","domain":[{"year":2017,"month":9,"date":24,"hours":10,"minutes":20,"utc":true},{"year":2019,"month":2,"date":9,"hours":17,"utc":true}],"nice":false}},"text":{"field":"text","type":"nominal"}}},
{"data":{"values":[{}]},"mark":{"type":"text","font":"Liberation Sans","fontSize":12,"fontWeight":"bold","color":"#131722","align":"left","baseline":"middle"},
 "encoding":{"x":{"datum":{"year":2017,"month":9,"date":27,"utc":true},"type":"temporal","scale":{"type":"utc","domain":[{"year":2017,"month":9,"date":24,"hours":10,"minutes":20,"utc":true},{"year":2019,"month":2,"date":9,"hours":17,"utc":true}],"nice":false}},
 "y":{"datum":0.81717,"type":"quantitative"},"text":{"value":"Australian Dollar/U.S. Dollar, 1D, FXCM"}}},
{"data":{"name":"levels"},"transform":[{"filter":"datum.price > 0.702"}],"mark":{"type":"tick","orient":"horizontal","size":51,"thickness":17,"color":"#ff0000","opacity":1,"xOffset":-26.5},
 "encoding":{"x":{"value":"width"}}},
{"data":{"name":"levels"},"transform":[{"filter":"datum.price < 0.702"}],"mark":{"type":"tick","orient":"horizontal","size":51,"thickness":17,"color":"#ff0000","opacity":1,"xOffset":-26.5,"yOffset":6},
 "encoding":{"x":{"value":"width"}}},
{"data":{"name":"levels"},"transform":[{"filter":"datum.price > 0.702"}],"mark":{"type":"text","align":"left","baseline":"middle","dx":-46,"font":"Liberation Sans","fontSize":11,"fontWeight":"bold","color":"#ffffff"},
 "encoding":{"x":{"value":"width"},"text":{"field":"price","type":"quantitative","format":".5f"}}},
{"data":{"name":"levels"},"transform":[{"filter":"datum.price < 0.702"}],"mark":{"type":"text","align":"left","baseline":"middle","dx":-46,"dy":6,"font":"Liberation Sans","fontSize":11,"fontWeight":"bold","color":"#ffffff"},
 "encoding":{"x":{"value":"width"},"text":{"field":"price","type":"quantitative","format":".5f"}}}
]
}
